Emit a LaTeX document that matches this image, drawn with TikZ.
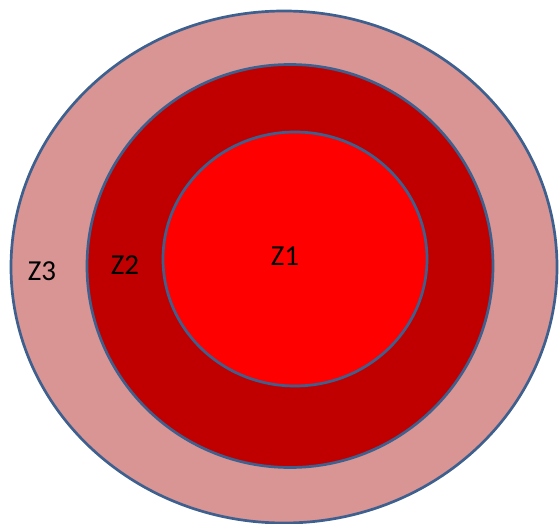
\documentclass[tikz,border=0pt]{standalone}
\usepackage{fontspec}
\setmainfont{Carlito}
\usepackage{tikz}
\definecolor{ZoneEdge}{RGB}{62,96,142}
\definecolor{ZoneOuter}{RGB}{217,148,148}
\definecolor{ZoneMid}{RGB}{192,0,0}
\definecolor{ZoneInner}{RGB}{255,0,0}

\begin{document}
\begin{tikzpicture}[x=1pt,y=-1pt]
  \useasboundingbox (0,0) rectangle (559,524);
  \filldraw[fill=ZoneOuter,draw=ZoneEdge,line width=2.7pt] (284,267) ellipse (273 and 256);
  \filldraw[fill=ZoneMid,draw=ZoneEdge,line width=2.7pt] (290,266) ellipse (203 and 201.5);
  \filldraw[fill=ZoneInner,draw=ZoneEdge,line width=2.7pt] (295,259) ellipse (132 and 127);
  \node[font=\fontsize{29}{32}\selectfont] (z1) at (285,256){Z1};
  \node[font=\fontsize{29}{32}\selectfont] (z2) at (125,265){Z2};
  \node[font=\fontsize{29}{32}\selectfont] (z3) at (42,271){Z3};
\end{tikzpicture}
\end{document}
